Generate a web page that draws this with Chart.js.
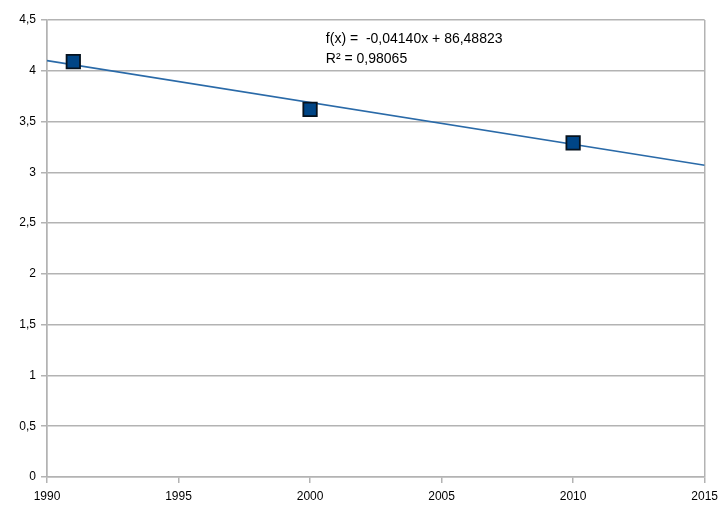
<!DOCTYPE html>
<html>
<head>
<meta charset="utf-8">
<script src="https://cdn.jsdelivr.net/npm/chart.js"></script>
<style>
  html, body { margin: 0; padding: 0; background: #fff; }
  #wrap { width: 724px; height: 509px; }
</style>
</head>
<body>
<div id="wrap"><canvas id="c"></canvas></div>
<script>
// 測定値
const years = [1991, 2000, 2010];
const values = [4.09, 3.62, 3.29];

// トレンドライン（端点を図から読み取り）
const trendYears = [1990, 2015];
const trendValues = [4.10, 3.07];

const equationLines = ['f(x) =  -0,04140x + 86,48823', 'R\u00b2 = 0,98065'];

const gridGray = '#b3b3b3';
const blue = '#004586';

// 回帰式のテキストを描画
const equationPlugin = {
    id: 'equation',
    afterDatasetsDraw(chart) {
        const { ctx, scales } = chart;
        const x = scales.x.getPixelForValue(2000.6);
        const y = scales.y.getPixelForValue(4.5);
        ctx.save();
        ctx.fillStyle = '#000';
        ctx.font = '14px "Liberation Sans", Arial, sans-serif';
        ctx.textBaseline = 'top';
        ctx.fillText(equationLines[0], x, y + 12);
        ctx.fillText(equationLines[1], x, y + 32);
        ctx.restore();
    }
};

new Chart(document.getElementById('c').getContext('2d'), {
    type: 'scatter',
    data: {
        datasets: [
            {
                label: 'Werte',
                data: years.map((x, i) => ({ x: x, y: values[i] })),
                pointStyle: 'rect',
                pointRadius: 9.5,
                pointHoverRadius: 9.5,
                backgroundColor: blue,
                borderColor: '#06121e',
                borderWidth: 1.8,
                order: 1
            },
            {
                label: 'Trend',
                type: 'line',
                data: trendYears.map((x, i) => ({ x: x, y: trendValues[i] })),
                borderColor: '#2a6aa8',
                borderWidth: 1.6,
                pointRadius: 0,
                fill: false,
                order: 2
            }
        ]
    },
    options: {
        responsive: true,
        maintainAspectRatio: false,
        animation: false,
        layout: { padding: { top: 20, right: 18, left: 0, bottom: 0 } },
        plugins: {
            legend: { display: false },
            tooltip: { enabled: false }
        },
        scales: {
            x: {
                type: 'linear',
                min: 1990,
                max: 2015,
                ticks: {
                    stepSize: 5,
                    color: '#000',
                    font: { family: '"Liberation Sans", Arial, sans-serif', size: 12 },
                    maxRotation: 0,
                    padding: 6,
                    callback: v => String(v)
                },
                grid: {
                    color: ctx => (ctx.index === 0 || ctx.index === 5) ? gridGray : 'rgba(0,0,0,0)',
                    tickColor: gridGray,
                    tickLength: 6,
                    lineWidth: 1.5
                },
                border: { color: gridGray, width: 1.5 },
                afterFit: s => { s.height = 32; }
            },
            y: {
                min: 0,
                max: 4.5,
                ticks: {
                    stepSize: 0.5,
                    color: '#000',
                    font: { family: '"Liberation Sans", Arial, sans-serif', size: 12 },
                    padding: 5,
                    callback: v => String(v).replace('.', ',')
                },
                grid: {
                    color: gridGray,
                    tickColor: gridGray,
                    tickLength: 6,
                    lineWidth: 1.5
                },
                border: { color: gridGray, width: 1.5 },
                afterFit: s => { s.width = 47; }
            }
        }
    },
    plugins: [equationPlugin]
});
</script>
</body>
</html>
